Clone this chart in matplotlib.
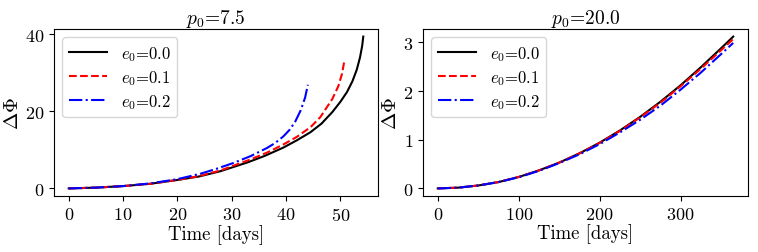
import matplotlib
matplotlib.use("Agg")
import matplotlib.pyplot as plt

plt.rcParams['font.family'] = 'serif'
plt.rcParams['font.serif'] = ['cmr10']
plt.rcParams['mathtext.fontset'] = 'cm'
plt.rcParams['axes.formatter.use_mathtext'] = True
plt.rcParams['axes.unicode_minus'] = False

# Left panel: p0 = 7.5
t_a0 = [0, 5, 10, 15, 20, 24, 28, 33, 36, 39.5, 42, 44.5, 46.5, 48.5, 50, 51.2, 52.2, 53, 53.6, 54.0, 54.2]
y_a0 = [0, 0.2, 0.6, 1.2, 2.2, 3.1, 4.5, 6.8, 8.4, 10.6, 12.5, 14.6, 16.8, 19.8, 22.5, 25.0, 27.8, 30.8, 34.0, 37.0, 39.4]
t_a1 = [0, 5, 10, 15, 20, 24, 28, 33.4, 36.5, 39.5, 42, 44.5, 46.3, 48.5, 49.6, 50.3, 50.7]
y_a1 = [0, 0.2, 0.6, 1.2, 2.2, 3.2, 4.7, 7.5, 9.3, 11.4, 13.4, 15.9, 18.5, 23.2, 26.5, 29.8, 33.0]
t_a2 = [0, 5, 10, 15, 20, 24.2, 27, 30.3, 33.5, 36.5, 38, 39.5, 40.7, 41.7, 42.7, 43.5, 44.0]
y_a2 = [0, 0.2, 0.6, 1.3, 2.4, 3.8, 5.0, 6.6, 8.4, 10.5, 11.8, 13.5, 15.3, 17.4, 20.3, 23.6, 26.9]

# Right panel: p0 = 20.0
t_b = [0, 25, 50, 75, 100, 125, 150, 175, 200, 225, 250, 275, 300, 325, 350, 365]
y_b0 = [0, 0.015, 0.06, 0.13, 0.235, 0.37, 0.53, 0.72, 0.94, 1.19, 1.47, 1.78, 2.12, 2.49, 2.88, 3.12]
y_b1 = [0, 0.015, 0.06, 0.13, 0.235, 0.37, 0.53, 0.72, 0.935, 1.18, 1.46, 1.76, 2.10, 2.46, 2.84, 3.07]
y_b2 = [0, 0.015, 0.06, 0.13, 0.23, 0.36, 0.52, 0.70, 0.91, 1.15, 1.41, 1.70, 2.03, 2.38, 2.76, 2.99]

labels = [r'$e_0$=0.0', r'$e_0$=0.1', r'$e_0$=0.2']
titles = [r'$p_0$=7.5', r'$p_0$=20.0']

W, H = 758, 253
fig = plt.figure(figsize=(W / 100, H / 100), dpi=100)
ax1 = fig.add_axes([54 / W, (H - 197) / H, 324 / W, 167 / H])
ax2 = fig.add_axes([423 / W, (H - 197) / H, 325 / W, 167 / H])

styles = [dict(color='black', ls='-'), dict(color='red', ls='--'), dict(color='blue', ls='-.')]

for ax, data, title in [
    (ax1, [(t_a0, y_a0), (t_a1, y_a1), (t_a2, y_a2)], titles[0]),
    (ax2, [(t_b, y_b0), (t_b, y_b1), (t_b, y_b2)], titles[1]),
]:
    for (t, y), st, lab in zip(data, styles, labels):
        ax.plot(t, y, lw=1.5, label=lab, **st)
    ax.set_title(title, fontsize=14, pad=3)
    ax.set_xlabel('Time [days]', fontsize=13.5, labelpad=1)
    ax.set_ylabel(r'$\Delta\Phi$', fontsize=15, labelpad=2)
    ax.tick_params(labelsize=13)
    ax.legend(loc='upper left', fontsize=12, labelspacing=0.3, handlelength=2.3)

ax1.set_xticks([0, 10, 20, 30, 40, 50])
ax1.set_yticks([0, 20, 40])
ax2.set_xticks([0, 100, 200, 300])
ax2.set_yticks([0, 1, 2, 3])

fig.savefig('out.png', dpi=100)
